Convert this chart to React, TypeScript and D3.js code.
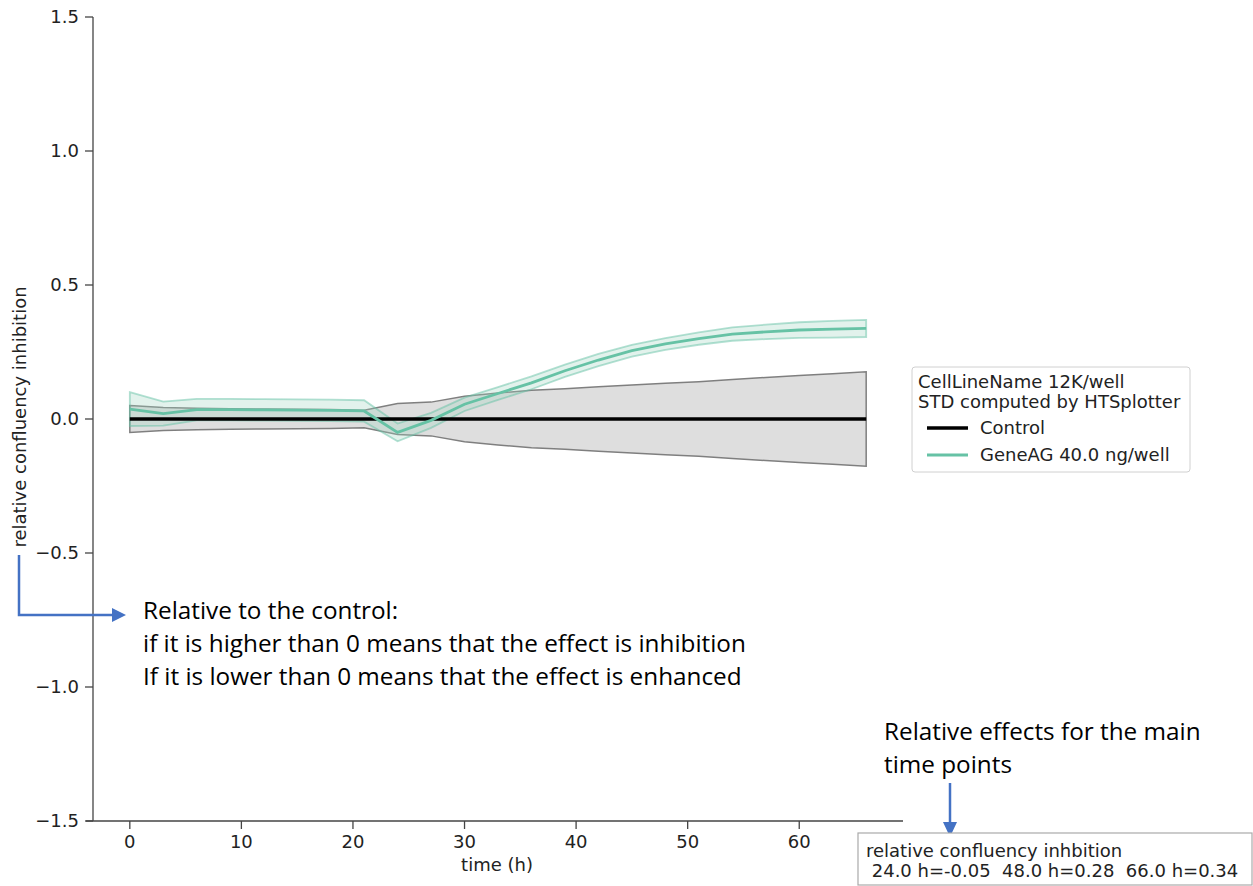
import React from "react"
import * as d3 from "d3"

const W = 1253
const H = 886

// time points (h)
const times = [0, 3, 6, 9, 12, 15, 18, 21, 24, 27, 30, 33, 36, 39, 42, 45, 48, 51, 54, 57, 60, 63, 66]
// control: mean 0, std
const controlMean = times.map(() => 0)
const controlStd = [0.05, 0.043, 0.04, 0.038, 0.037, 0.036, 0.035, 0.033, 0.058, 0.063, 0.085, 0.097, 0.107, 0.113, 0.12, 0.127, 0.133, 0.139, 0.147, 0.155, 0.162, 0.169, 0.176]
// GeneAG 40.0 ng/well
const geneMean = [0.037, 0.02, 0.035, 0.035, 0.034, 0.033, 0.032, 0.03, -0.05, -0.005, 0.055, 0.095, 0.135, 0.18, 0.22, 0.255, 0.28, 0.3, 0.317, 0.325, 0.332, 0.335, 0.338]
const geneStd = [0.063, 0.045, 0.04, 0.04, 0.04, 0.04, 0.04, 0.04, 0.033, 0.028, 0.025, 0.024, 0.024, 0.023, 0.023, 0.022, 0.022, 0.023, 0.025, 0.027, 0.029, 0.031, 0.032]

const xTicks = [0, 10, 20, 30, 40, 50, 60]
const yTicks = [-1.5, -1.0, -0.5, 0.0, 0.5, 1.0, 1.5]

const legendTitle = ["CellLineName 12K/well", "STD computed by HTSplotter"]
const legendItems = [
  { label: "Control", color: "#000000" },
  { label: "GeneAG 40.0 ng/well", color: "#66c2a5" },
]

const noteLines = [
  "Relative to the control:",
  "if it is higher than 0 means that the effect is inhibition",
  "If it is lower than 0 means that the effect is enhanced",
]
const mainLines = ["Relative effects for the main", "time points"]
const boxLines = ["relative confluency inhbition", " 24.0 h=-0.05  48.0 h=0.28  66.0 h=0.34"]

const tickFont = "DejaVu Sans, sans-serif"
const noteFont = "Open Sans, Noto Sans, sans-serif"
const blue = "#4472c4"
const fs = 18

export default function App() {
  const x = d3.scaleLinear().domain([-3.3, 69.3]).range([93, 903])
  const y = d3.scaleLinear().domain([-1.5, 1.5]).range([821, 17])

  const idx = d3.range(times.length)
  const area = (mean: number[], std: number[]) =>
    d3
      .area<number>()
      .x((i) => x(times[i]))
      .y0((i) => y(mean[i] - std[i]))
      .y1((i) => y(mean[i] + std[i]))(idx) || ""
  const line = (mean: number[]) =>
    d3
      .line<number>()
      .x((i) => x(times[i]))
      .y((i) => y(mean[i]))(idx) || ""

  return (
    <div style={{ position: "absolute", left: 0, top: 0 }}>
      <svg width={W} height={H} style={{ display: "block", background: "#fff" }}>
        {/* bands */}
        <path d={area(controlMean, controlStd)} fill="#dedede" stroke="#7f7f7f" strokeWidth={1.5} />
        <path d={area(geneMean, geneStd)} fill="#9fd3c0" fillOpacity={0.3} stroke="#66c2a5" strokeOpacity={0.5} strokeWidth={1.8} />
        <path d={line(controlMean)} fill="none" stroke="#000" strokeWidth={3.5} />
        <path d={line(geneMean)} fill="none" stroke="#66c2a5" strokeWidth={2.8} />

        {/* spines */}
        <line x1={93} x2={93} y1={17} y2={821} stroke="#444" strokeWidth={1.3} />
        <line x1={86} x2={903} y1={821} y2={821} stroke="#444" strokeWidth={1.3} />

        {yTicks.map((t) => (
          <g key={"y" + t}>
            <line x1={85} x2={93} y1={y(t)} y2={y(t)} stroke="#444" strokeWidth={1.3} />
            <text x={79} y={y(t)} dy="0.36em" textAnchor="end" fontFamily={tickFont} fontSize={fs} fill="#222">
              {(t < 0 ? "\u2212" : "") + Math.abs(t).toFixed(1)}
            </text>
          </g>
        ))}
        {xTicks.map((t) => (
          <g key={"x" + t}>
            <line x1={x(t)} x2={x(t)} y1={821} y2={829} stroke="#444" strokeWidth={1.3} />
            <text x={x(t)} y={848} textAnchor="middle" fontFamily={tickFont} fontSize={fs} fill="#222">
              {t}
            </text>
          </g>
        ))}
        <text x={497} y={871} textAnchor="middle" fontFamily={tickFont} fontSize={fs} fill="#222">
          time (h)
        </text>
        <text
          transform={`translate(26,${y(0) - 2}) rotate(-90)`}
          textAnchor="middle"
          fontFamily={tickFont}
          fontSize={fs}
          fill="#222"
        >
          relative confluency inhibition
        </text>

        {/* legend */}
        <rect x={912} y={367} width={278} height={105} rx={3} fill="#fff" stroke="#d0d0d0" strokeWidth={1} />
        {legendTitle.map((s, i) => (
          <text key={s} x={918} y={388 + i * 20} fontFamily={tickFont} fontSize={fs} fill="#222">
            {s}
          </text>
        ))}
        {legendItems.map((d, i) => (
          <g key={d.label}>
            <line x1={927} x2={968} y1={428 + i * 27} y2={428 + i * 27} stroke={d.color} strokeWidth={d.label === "Control" ? 3.5 : 2.8} />
            <text x={980} y={428 + i * 27} dy="0.36em" fontFamily={tickFont} fontSize={fs} fill="#222">
              {d.label}
            </text>
          </g>
        ))}

        {/* left annotation */}
        <path d="M19,555 V615 H114" fill="none" stroke={blue} strokeWidth={2.5} />
        <path d="M126,615 L112,608 L112,622 Z" fill={blue} />
        {noteLines.map((s, i) => (
          <text key={s} x={143} y={619 + i * 33} fontFamily={noteFont} fontSize={24.3} fill="#000">
            {s}
          </text>
        ))}

        {/* right annotation */}
        {mainLines.map((s, i) => (
          <text key={s} x={884} y={740 + i * 33} fontFamily={noteFont} fontSize={24.3} fill="#000">
            {s}
          </text>
        ))}
        <line x1={950} x2={950} y1={783} y2={824} stroke={blue} strokeWidth={2.5} />
        <path d="M950,837 L943,822 L957,822 Z" fill={blue} />

        <rect x={858} y={833} width={394} height={52} fill="#fff" stroke="#aaa" strokeWidth={1.2} />
        {boxLines.map((s, i) => (
          <text key={i} x={866} y={857 + i * 20} fontFamily={tickFont} fontSize={fs} fill="#222" xmlSpace="preserve" style={{ whiteSpace: "pre" }}>
            {s}
          </text>
        ))}
      </svg>
    </div>
  )
}
